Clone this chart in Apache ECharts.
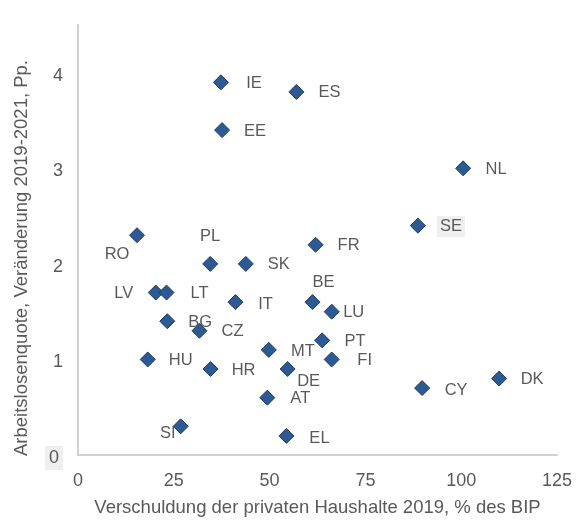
<!DOCTYPE html>
<html>
<head>
<meta charset="utf-8">
<script src="https://cdn.jsdelivr.net/npm/echarts@6/dist/echarts.min.js"></script>
<style>
  html, body { margin: 0; padding: 0; background: #fff; }
  #chart { width: 584px; height: 522px; }
</style>
</head>
<body>
<div id="chart"></div>
<script>
// Länder, private Verschuldung 2019 (% BIP), Veränderung Arbeitslosenquote 2019-2021 (Pp.)
var countries = ["IE", "ES", "EE", "NL", "SE", "RO", "FR", "PL", "SK", "LV", "LT", "BE", "IT", "LU",
  "BG", "CZ", "PT", "MT", "HU", "FI", "HR", "DE", "DK", "CY", "AT", "SI", "EL"];
var debt = [37.3, 57.0, 37.6, 100.5, 88.7, 15.4, 62.0, 34.5, 43.8, 20.3, 23.1, 61.2, 41.1, 66.2,
  23.3, 31.7, 63.7, 49.8, 18.2, 66.2, 34.6, 54.7, 109.9, 89.8, 49.4, 26.8, 54.4];
var unemp = [3.9, 3.8, 3.4, 3.0, 2.4, 2.3, 2.2, 2.0, 2.0, 1.7, 1.7, 1.6, 1.6, 1.5,
  1.4, 1.3, 1.2, 1.1, 1.0, 1.0, 0.9, 0.9, 0.8, 0.7, 0.6, 0.3, 0.2];
var xTicks = [0, 25, 50, 75, 100, 125];
var yTicks = [0, 1, 2, 3, 4];

// Beschriftungsversatz (Pixel) je Land, Standard rechts vom Punkt
var labelShift = {
  RO: [-20, 19], PL: [0, -27], BE: [11, -20], LU: [22, 1], LV: [-32, 1],
  DE: [21, 12], SI: [-13, 7], CY: [34, 2], EL: [33, 3], IT: [30, 2], MT: [34, 2]
};

var textColor = "#595959";
var font = "Liberation Sans, Arial, sans-serif";

var points = countries.map(function (c, i) {
  var off = labelShift[c] || [33, 1];
  var item = {
    name: c,
    value: [debt[i], unemp[i]],
    label: { offset: off }
  };
  if (c === "SE") {
    item.label.backgroundColor = "#efefef";
    item.label.padding = [2, 3];
  }
  return item;
});

var chart = echarts.init(document.getElementById("chart"));
chart.setOption({
  animation: false,
  textStyle: { fontFamily: font },
  grid: { left: 78, right: 27, top: 25, bottom: 65 },
  xAxis: {
    type: "value",
    min: xTicks[0],
    max: xTicks[xTicks.length - 1],
    interval: 25,
    name: "Verschuldung der privaten Haushalte 2019, % des BIP",
    nameLocation: "middle",
    nameGap: 43,
    nameTextStyle: { color: textColor, fontSize: 18.5, fontFamily: font },
    axisLine: { lineStyle: { color: "#d0d0d0", width: 2 } },
    axisTick: { show: false },
    splitLine: { show: false },
    axisLabel: { color: textColor, fontSize: 18, fontFamily: font, margin: 17 }
  },
  yAxis: {
    type: "value",
    min: yTicks[0],
    max: 4.5,
    interval: 1,
    name: "Arbeitslosenquote, Veränderung 2019-2021, Pp.",
    nameLocation: "middle",
    nameGap: 47,
    nameTextStyle: { color: textColor, fontSize: 18.5, fontFamily: font, padding: [0, 36, 0, 0] },
    axisLine: { show: true, lineStyle: { color: "#d0d0d0", width: 2 } },
    axisTick: { show: false },
    splitLine: { show: false },
    axisLabel: {
      color: textColor, fontSize: 18, fontFamily: font, margin: 15,
      padding: [6, 0, 0, 0],
      showMaxLabel: false,
      formatter: function (v) {
        return v === 0 ? "{hl|0}" : String(v);
      },
      rich: {
        hl: { backgroundColor: "#efefef", padding: [3, 4], color: textColor, fontSize: 18, fontFamily: font }
      }
    }
  },
  series: [{
    type: "scatter",
    symbol: "diamond",
    symbolSize: [15, 15],
    itemStyle: { color: "#2e5a94", borderColor: "#1e3a62", borderWidth: 1, opacity: 1 },
    label: {
      show: true,
      position: "inside",
      formatter: "{b}",
      color: textColor,
      fontSize: 16.5,
      fontFamily: font
    },
    data: points
  }]
});
</script>
</body>
</html>
